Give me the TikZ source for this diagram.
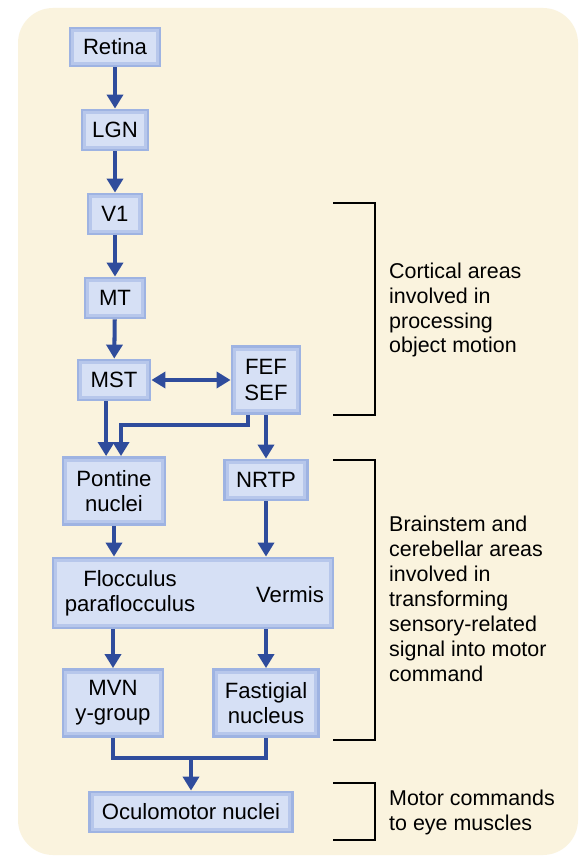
\documentclass[tikz,border=0pt]{standalone}
\usepackage{fontspec}
\setmainfont{Liberation Sans}
\usepackage{tikz}
\usetikzlibrary{arrows.meta, positioning, calc}
\definecolor{colBg}{RGB}{250, 243, 222}
\definecolor{colBox}{RGB}{214, 224, 245}
\definecolor{colRim}{RGB}{158, 179, 226}
\definecolor{colFlow}{RGB}{47, 76, 156}

\begin{document}
\begin{tikzpicture}[x=0.02cm, y=-0.02cm,
    every node/.style={font=\fontsize{12.2}{14.2}\selectfont},
    area/.style={draw=colRim, line width=1.6pt, fill=colBox, inner sep=2pt, align=center,
        font=\fontsize{12.6}{14.4}\selectfont,
        path picture={\draw[colRim!55!colBox, line width=5pt]
            (path picture bounding box.south west) rectangle (path picture bounding box.north east);}},
    flow/.style={colFlow, line width=2.3pt, -{Triangle[length=2.8mm, width=3.2mm]}},
    link/.style={colFlow, line width=2.3pt},
    brk/.style={black, line width=1pt}]
    % Hintergrund
    \useasboundingbox (0,0) rectangle (579,857);
    \fill[white] (0,0) rectangle (579,857);
    \fill[colBg, rounded corners=20] (18,8) rectangle (578,855);

    % Kortikale Bahn
    \node[area, minimum width=1.8cm, minimum height=0.76cm] (ret) at (115,47) {Retina};
    \node[area, minimum width=1.32cm, minimum height=0.8cm] (lgn) at (115,130) {LGN};
    \node[area, minimum width=1.08cm, minimum height=0.8cm] (vone) at (115,214) {V1};
    \node[area, minimum width=1.2cm, minimum height=0.8cm] (mt) at (115,298) {MT};
    \node[area, minimum width=1.44cm, minimum height=0.8cm] (mst) at (114,380) {MST};
    \node[area, minimum width=1.36cm, minimum height=1.34cm] (fef) at (266,380) {FEF\\SEF};

    % Hirnstamm und Kleinhirn
    \node[area, minimum width=2.04cm, minimum height=1.34cm] (pon) at (114,491) {Pontine\\nuclei};
    \node[area, minimum width=1.66cm, minimum height=0.8cm] (nrtp) at (266,480) {NRTP};
    \node[area, minimum width=5.6cm, minimum height=1.4cm] (fv) at (193,593) {};
    \node[align=center, font=\fontsize{12.6}{14.4}\selectfont] (floc) at (130,593) {Flocculus\\paraflocculus};
    \node[font=\fontsize{12.6}{14.4}\selectfont] (verm) at (290,595) {Vermis};
    \node[area, minimum width=2.0cm, minimum height=1.34cm] (mvn) at (113,703) {MVN\\y-group};
    \node[area, minimum width=2.1cm, minimum height=1.34cm] (fas) at (266,703) {Fastigial\\nucleus};
    \node[area, minimum width=4.06cm, minimum height=0.8cm] (ocu) at (191,812) {Oculomotor nuclei};

    % Verbindungen
    \draw[flow] (ret) -- (lgn);
    \draw[flow] (lgn) -- (vone);
    \draw[flow] (vone) -- (mt);
    \draw[flow] (mt) -- (mst);
    \draw[link, {Triangle[length=2.8mm, width=3.2mm]}-{Triangle[length=2.8mm, width=3.2mm]}]
        (mst) -- (fef);
    \draw[flow] ([xshift=-4.5pt]mst.south) -- ([xshift=-4.5pt]mst.south |- pon.north);
    \coordinate (bend) at (121,425);
    \draw[flow] ([xshift=-10pt]fef.south) |- (bend) -- (bend |- pon.north);
    \draw[flow] (fef) -- (nrtp);
    \draw[flow] (pon.south) -- (pon.south |- fv.north);
    \draw[flow] (nrtp.south) -- (nrtp.south |- fv.north);
    \draw[flow] (mvn.north |- fv.south) -- (mvn.north);
    \draw[flow] (fas.north |- fv.south) -- (fas.north);
    \coordinate (join) at (191,758);
    \draw[link] (mvn.south) |- (join) -| (fas.south);
    \draw[flow] ([yshift=1.1pt]join) -- (ocu.north);

    % Klammern
    \draw[brk] (333,203) -- (375,203) -- (375,415) -- (333,415);
    \node[anchor=west, align=left] (txtA) at (383,310)
        {Cortical areas\\involved in\\processing\\object motion};
    \draw[brk] (333,460) -- (375,460) -- (375,740) -- (333,740);
    \node[anchor=west, align=left] (txtB) at (383,599)
        {Brainstem and\\cerebellar areas\\involved in\\transforming\\sensory-related\\signal into motor\\command};
    \draw[brk] (333,783) -- (375,783) -- (375,840) -- (333,840);
    \node[anchor=west, align=left] (txtC) at (383,812)
        {Motor commands\\to eye muscles};
\end{tikzpicture}
\end{document}
